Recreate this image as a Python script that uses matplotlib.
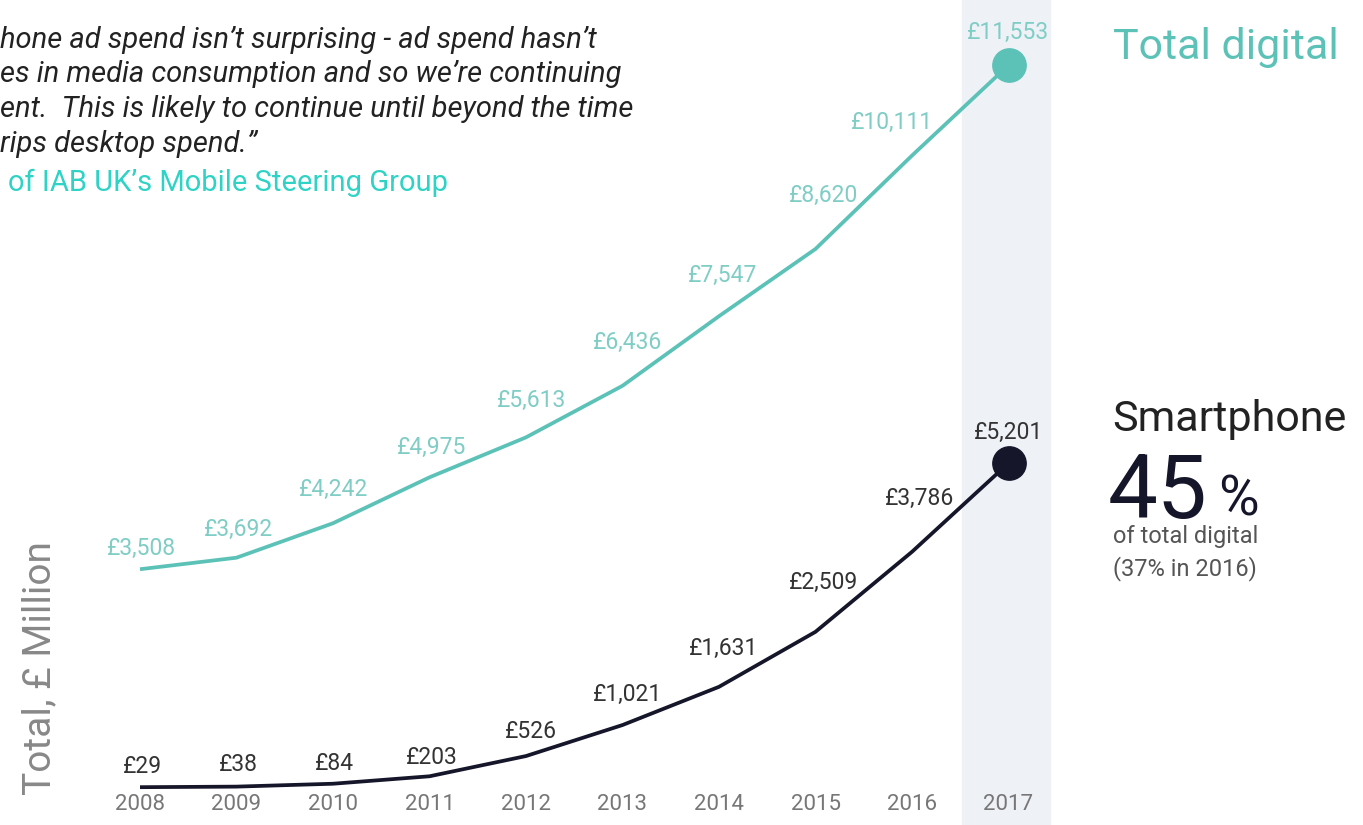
import matplotlib.pyplot as plt

years = [2008, 2009, 2010, 2011, 2012, 2013, 2014, 2015, 2016, 2017]
total_digital = [3508, 3692, 4242, 4975, 5613, 6436, 7547, 8620, 10111, 11553]
smartphone = [29, 38, 84, 203, 526, 1021, 1631, 2509, 3786, 5201]

quote_lines = [
    "hone ad spend isn\u2019t surprising - ad spend hasn\u2019t",
    "es in media consumption and so we\u2019re continuing",
    "ent.  This is likely to continue until beyond the time",
    "rips desktop spend.\u201d",
]
quote_source = "of IAB UK\u2019s Mobile Steering Group"

TEAL = "#5cc2b8"
TEAL_TXT = "#7fcdc5"
DARK = "#16162a"
GREY = "#777777"

plt.rcParams['font.family'] = ['Roboto', 'DejaVu Sans']

fig = plt.figure(figsize=(13.63, 8.25), dpi=100)
ax = fig.add_axes([0, 0, 1, 1])
# axes fills the figure: pixel x = 140 + (year-2008)*96.5, y0 at px 789
ax.set_xlim(2008 - 140 / 96.5, 2008 + 1223 / 96.5)
ax.set_ylim(-36 / 0.06265, 789 / 0.06265)
ax.axis("off")

ax.axvspan(2016.52, 2017.43, color="#eef1f6", zorder=0)

ax.plot(years, total_digital, color=TEAL, lw=2.7, zorder=2, solid_capstyle="butt")
ax.plot(years, smartphone, color=DARK, lw=2.7, zorder=2, solid_capstyle="butt")
ax.plot(years[-1], total_digital[-1], "o", ms=24, color=TEAL, zorder=3)
ax.plot(years[-1], smartphone[-1], "o", ms=24, color=DARK, zorder=3)

# label offsets in pixels (dx, dy)
teal_off = [(2, 21), (2, 28), (1, 34), (2, 30), (6, 37), (5, 43), (4, 41), (8, 53), (-20, 33), (0, 33)]
dark_off = [(2, 21), (2, 22), (1, 20), (2, 19), (5, 25), (5, 31), (5, 38), (8, 49), (8, 53), (0, 31)]

for x, v, (dx, dy) in zip(years, total_digital, teal_off):
    ax.annotate(f"\u00a3{v:,}", (x, v), xytext=(dx, dy), textcoords="offset pixels",
                ha="center", va="center", fontsize=16.5, color=TEAL_TXT, zorder=4)
for x, v, (dx, dy) in zip(years, smartphone, dark_off):
    ax.annotate(f"\u00a3{v:,}", (x, v), xytext=(dx, dy), textcoords="offset pixels",
                ha="center", va="center", fontsize=16.5, color="#333333", zorder=4)

for x in years:
    ax.text(x, -16 / 0.06265, str(x), ha="center", va="center", fontsize=16, color=GREY)

fig.text(40 / 1363, 1 - 668 / 825, "Total, \u00a3 Million", rotation=90, ha="center", va="center",
         fontsize=28, color="#888888")

for i, line in enumerate(quote_lines):
    fig.text(0, 1 - (40 + 34.5 * i) / 825, line, ha="left", va="center", fontsize=21,
             style="italic", color="#222222")
fig.text(8 / 1363, 1 - 183 / 825, quote_source, ha="left", va="center", fontsize=21,
         color="#2fd3c5")

fig.text(1113 / 1363, 1 - 48 / 825, "Total digital", ha="left", va="center", fontsize=31, color=TEAL)
fig.text(1112 / 1363, 1 - 420 / 825, "Smartphone", ha="left", va="center", fontsize=31, color="#222222")
fig.text(1108 / 1363, 1 - 518 / 825, "45", ha="left", va="baseline", fontsize=64, color=DARK)
fig.text(1218 / 1363, 1 - 515 / 825, "%", ha="left", va="baseline", fontsize=40, color=DARK)
fig.text(1113 / 1363, 1 - 537 / 825, "of total digital", ha="left", va="center", fontsize=17, color="#555555")
fig.text(1113 / 1363, 1 - 569 / 825, "(37% in 2016)", ha="left", va="center", fontsize=17, color="#555555")

fig.savefig("out.png", dpi=100)
